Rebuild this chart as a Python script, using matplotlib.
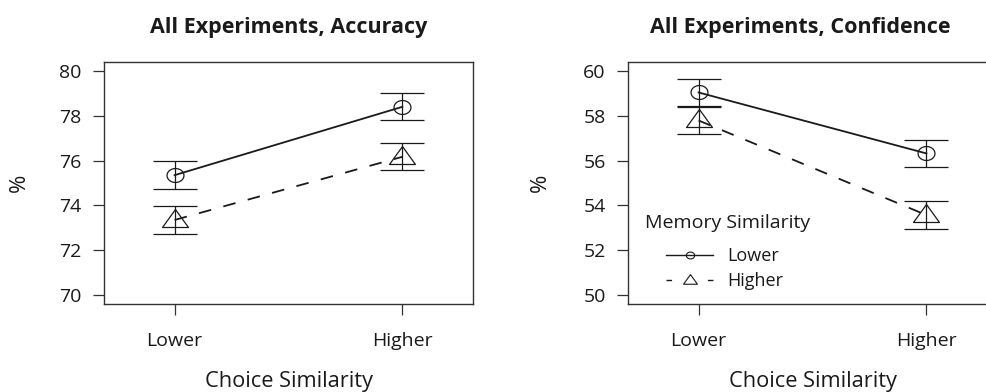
import numpy as np
import matplotlib
matplotlib.use('Agg')
import matplotlib.pyplot as plt
from matplotlib.lines import Line2D

plt.rcParams['font.family'] = ['Open Sans', 'DejaVu Sans']

# data
categories = ['Lower', 'Higher']
acc_lower = [75.35, 78.40]
acc_lower_err = [0.62, 0.60]
acc_higher = [73.35, 76.17]
acc_higher_err = [0.62, 0.60]
conf_lower = [59.04, 56.32]
conf_lower_err = [0.62, 0.62]
conf_higher = [57.79, 53.57]
conf_higher_err = [0.62, 0.62]

ink = '#1a1a1a'

# open markers slightly stretched sideways like the original
t = np.linspace(0, 2 * np.pi, 40)
circ = np.column_stack([8.5 * np.cos(t), 7.0 * np.sin(t)])
tri = np.array([[0, 11], [-13, -7], [13, -7], [0, 11]])

fig = plt.figure(figsize=(9.87, 3.92), dpi=100)
W, H = 987, 392


def make_axes(left_px):
    return fig.add_axes([left_px / W, (H - 304) / H, 369 / W, 242 / H])


def panel(ax, low, low_err, high, high_err, ylim, yticks, title, title_x):
    x = np.arange(1, len(categories) + 1)
    ax.plot(x, low, color=ink, lw=1.3, marker=circ, ms=12.2, mfc='none',
            mec=ink, mew=0.9)
    ax.plot(x, high, color=ink, lw=1.3, ls=(0, (7, 7)), marker=tri, ms=18.7,
            mfc='none', mec=ink, mew=0.9)
    ax.errorbar(x, low, yerr=low_err, fmt='none', ecolor=ink, elinewidth=0.9,
                capsize=15.8, capthick=0.9)
    ax.errorbar(x, high, yerr=high_err, fmt='none', ecolor=ink, elinewidth=0.9,
                capsize=15.8, capthick=0.9)
    ax.set_xlim(0.69, 2.31)
    ax.set_ylim(ylim[0] - 0.4, ylim[1] + 0.4)
    ax.set_yticks(yticks)
    ax.set_xticks(x)
    ax.set_xticklabels(categories)
    for s in ax.spines.values():
        s.set_color('#333333')
        s.set_linewidth(1.0)
    ax.tick_params(axis='both', direction='out', length=8, width=0.9,
                   colors='#333333', labelcolor=ink, labelsize=14)
    ax.tick_params(axis='x', pad=12.5)
    ax.tick_params(axis='y', pad=8)
    ax.set_title(title, fontsize=15.5, fontweight='bold', color=ink, pad=21,
                 x=title_x)
    ax.set_xlabel('Choice Similarity', fontsize=15.7, color=ink)
    ax.xaxis.set_label_coords(0.5, -0.278)
    ax.set_ylabel('%', fontsize=16, color=ink)
    ax.yaxis.label.set_va('center')


ax1 = make_axes(104)
panel(ax1, acc_lower, acc_lower_err, acc_higher, acc_higher_err,
      (70, 80), [70, 72, 74, 76, 78, 80], 'All Experiments, Accuracy', 0.5)
ax1.yaxis.set_label_coords(-0.228, 0.5)

ax2 = make_axes(628)
panel(ax2, conf_lower, conf_lower_err, conf_higher, conf_higher_err,
      (50, 60), [50, 52, 54, 56, 58, 60], 'All Experiments, Confidence', 0.466)
ax2.yaxis.set_label_coords(-0.237, 0.5)

# legend
ax2.text(0.046, (304 - 223) / 242, 'Memory Similarity', transform=ax2.transAxes,
         fontsize=14, color=ink, va='center', ha='left')
handles = [
    Line2D([], [], color=ink, lw=1.0, marker=circ, ms=6, mfc='none', mec=ink, mew=0.8),
    Line2D([], [], color=ink, lw=1.0, ls=(0, (4, 25.8)), marker=tri, ms=10,
           mfc='none', mec=ink, mew=0.8),
]
ax2.legend(handles, categories, loc='upper left',
           bbox_to_anchor=((668 - 628) / 369 - 0.02, (304 - 242) / 242),
           frameon=False, fontsize=13, handlelength=2.6, handletextpad=0.8,
           labelspacing=0.38, borderaxespad=0, borderpad=0.3, labelcolor=ink)

fig.savefig('out.png', dpi=100)
